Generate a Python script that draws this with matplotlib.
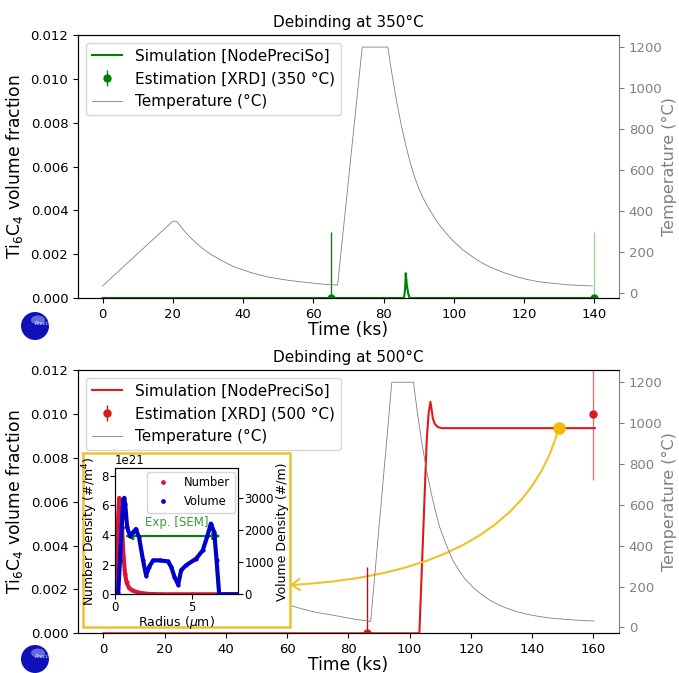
import matplotlib.pyplot as plt
from matplotlib.patches import Rectangle, Ellipse

# ---- Debinding at 350 C ----
temp350_t = [0, 20, 21, 22, 23, 24, 25.5, 27, 29, 31, 33, 35, 37.3, 40, 42.1, 45, 47,
             50, 53, 56.5, 60, 63, 66.9,
             73.9, 81.2, 81.8, 82.5, 83.2, 84, 85, 86.3, 87.5, 88.7, 90, 91.1, 92.5,
             94, 95.8, 98, 100, 102.5, 105.3, 108, 111, 114.8, 118, 121, 124.3, 128,
             132, 136, 139.4]
temp350_T = [34, 350, 350, 330, 308, 288, 262, 238, 210, 186, 166, 148, 128, 112, 100,
             86, 78, 69, 61, 54, 47, 42, 38,
             1200, 1200, 1130, 1055, 985, 908, 821, 721, 641, 572, 510, 468, 423,
             380, 333, 287, 250, 211, 176, 146, 121, 95, 78, 65, 54, 47,
             40, 36, 34]
sim350_t = [0, 85.8, 86.1, 86.3, 86.6, 87.0, 87.4, 140]
sim350_v = [0, 0, 0.0004, 0.00113, 0.0006, 0.0002, 0, 0]
est350_t = [65, 140]
est350_v = [0, 0]

# ---- Debinding at 500 C ----
temp500_t = [0, 27, 28, 30, 33, 36, 40, 45, 50, 55, 60.8, 65, 70, 77.1, 82, 87.3,
             94.2, 101.3, 102, 103, 104, 105.5, 107, 108.5, 109.8, 111.5, 113, 114.1,
             116, 118, 120.6, 123, 126, 129, 131.5, 135, 138.5, 142.4, 147, 152, 156,
             160.3]
temp500_T = [34, 500, 500, 430, 360, 300, 240, 185, 150, 128, 108, 90, 72, 54, 40, 29,
             1200, 1200, 1114, 1004, 904, 773, 662, 567, 492, 422, 368, 329,
             283, 239, 198, 167, 135, 111, 95, 77, 64, 53, 44, 38, 34,
             31]
sim500_t = [0, 103.2, 103.8, 104.4, 105.0, 105.6, 106.2, 106.8, 107.2, 107.6, 108.2,
            109.2, 110.5, 160.5]
sim500_v = [0, 0, 0.0022, 0.0044, 0.0066, 0.0088, 0.0100, 0.01055, 0.0102, 0.0098,
            0.00955, 0.0094, 0.00935, 0.00935]
est500_t = [86, 160]
est500_v = [0, 0.0100]
est_err = 0.003
mark_t, mark_v = 148.7, 0.00935
arrow_tip = (60.8, 0.0022)

# ---- inset: size distributions ----
rad_num = [0, 0.05, 0.1, 0.15, 0.2, 0.27, 0.35, 0.45, 0.55, 0.65, 0.75, 0.9, 1.1, 1.4,
           1.8, 2.3, 3.0, 5.0, 8.0]
num_dens = [0, 0.8, 2.0, 3.5, 5.0, 6.5, 6.0, 4.5, 2.6, 1.4, 0.8, 0.45, 0.28, 0.15,
            0.06, 0.02, 0, 0, 0]
rad_vol = [0, 0.15, 0.21, 0.32, 0.43, 0.54, 0.6, 0.66, 0.79, 0.97, 1.18, 1.35, 1.56,
           1.82, 2.02, 2.21, 2.47, 2.9, 3.43, 3.65, 3.86, 4.1, 4.29, 4.61, 5.26, 5.69,
           6.0, 6.22, 6.44, 6.59, 6.76, 8.0]
vol_dens = [0, 0, 50, 1055, 2080, 2950, 3000, 2800, 2080, 1825, 1926, 2030, 1772,
            1055, 580, 850, 1055, 1055, 1024, 850, 542, 300, 748, 902, 1107, 1363,
            1825, 2200, 1926, 1055, 0, 0]
sem_range = (0.64, 6.86)
sem_level = 3.93

W, H = 679, 673
fig = plt.figure(figsize=(W / 100, H / 100), dpi=100)


def px_box(x0, y0, x1, y1):
    return [x0 / W, 1 - y1 / H, (x1 - x0) / W, (y1 - y0) / H]


def main_panel(box, t_T, T, t_s, v_s, t_e, v_e, col, ecols, title, est_label, xlim, tlim):
    ax = fig.add_axes(px_box(*box))
    ax2 = ax.twinx()
    ax.plot(t_s, v_s, color=col, lw=1.5, label='Simulation [NodePreciSo]', zorder=3)
    eb = ax.errorbar(t_e, v_e, yerr=est_err, fmt='o', color=col, ms=5, elinewidth=1,
                     label=est_label, zorder=4)
    eb[2][0].set_color(ecols)
    ax2.plot(t_T, T, color='gray', lw=0.6, label='Temperature (\u00b0C)')
    ax.set_xlim(*xlim)
    ax.set_ylim(0, 0.012)
    ax2.set_ylim(*tlim)
    ax.set_title(title, fontsize=11)
    ax.set_xlabel('Time (ks)', fontsize=12.3, labelpad=0)
    ax.set_ylabel('Ti$_6$C$_4$ volume fraction', fontsize=12.3)
    ax2.set_ylabel('Temperature (\u00b0C)', fontsize=11.5, color='gray', labelpad=0)
    ax.tick_params(labelsize=9.5)
    ax2.tick_params(labelsize=9.5, colors='gray')
    ax.spines['right'].set_visible(False)
    ax2.spines['right'].set_color('gray')
    h1, l1 = ax.get_legend_handles_labels()
    h2, l2 = ax2.get_legend_handles_labels()
    ax2.legend(h1 + h2, l1 + l2, loc='upper left', fontsize=11)
    return ax, ax2


main_panel((78, 35, 619, 298), temp350_t, temp350_T, sim350_t, sim350_v, est350_t,
           est350_v, 'green', ['#1a7a1a', (0.2, 0.6, 0.2, 0.45)],
           'Debinding at 350\u00b0C', 'Estimation [XRD] (350 \u00b0C)',
           (-7, 147), (-25, 1259))

axb, axb2 = main_panel((78, 370, 619, 633.3), temp500_t, temp500_T, sim500_t, sim500_v,
                       est500_t, est500_v, '#dc1a1a', ['#b01818', (0.75, 0.2, 0.2, 0.65)],
                       'Debinding at 500\u00b0C', 'Estimation [XRD] (500 \u00b0C)',
                       (-8.3, 168.4), (-29, 1260))

axb.plot([mark_t], [mark_v], 'o', color='#f5b800', ms=8, zorder=5)
axb.annotate('', xy=arrow_tip, xytext=(mark_t, mark_v),
             arrowprops=dict(arrowstyle='->,head_length=0.6,head_width=0.4',
                             color='#efc12a', lw=1.5, shrinkA=0, shrinkB=0,
                             connectionstyle='angle3,angleA=75,angleB=3'))

# yellow frame behind the inset
frame = Rectangle((83.3 / W, 1 - 627.3 / H), 206.7 / W, 174 / H,
                  transform=fig.transFigure, facecolor='white', edgecolor='#ecc232',
                  lw=1.8, zorder=2)
fig.add_artist(frame)

axi = fig.add_axes(px_box(115, 468.3, 238.3, 594.3))
axi.set_zorder(3)
axi2 = axi.twinx()
axi2.set_zorder(4)
nd = [v * 1e21 for v in num_dens]
axi.plot(rad_num, nd, color='crimson', lw=3)
axi.plot(rad_num, nd, '.', color='crimson', ms=4, label='Number')
axi2.plot(rad_vol, vol_dens, color='mediumblue', lw=3)
axi2.plot(rad_vol, vol_dens, '.', color='mediumblue', ms=4, label='Volume')
axi.set_xlim(0, 8)
axi.set_ylim(0, 8.5e21)
axi2.set_ylim(0, 3920)
axi.set_xticks([0, 5])
axi.set_yticks([0, 2e21, 4e21, 6e21, 8e21])
axi2.set_yticks([0, 1000, 2000, 3000])
axi.tick_params(labelsize=8.5, pad=1)
axi2.tick_params(labelsize=8.5, pad=1)
axi.yaxis.get_offset_text().set_fontsize(8.5)
axi.set_xlabel('Radius ($\\mu$m)', fontsize=9, labelpad=0)
axi.set_ylabel('Number Density (#/m$^4$)', fontsize=9, labelpad=1)
axi2.set_ylabel('Volume Density (#/m)', fontsize=9, labelpad=1)
axi.annotate('', xy=(sem_range[0], sem_level * 1e21), xytext=(sem_range[1], sem_level * 1e21),
             arrowprops=dict(arrowstyle='<|-|>', color='green', lw=1.5,
                             mutation_scale=11, shrinkA=0, shrinkB=0), zorder=5)
axi.text(4.0, 4.87e21, 'Exp. [SEM]', color='#3a9a3a', fontsize=8.5, ha='center', va='center')
hi1, li1 = axi.get_legend_handles_labels()
hi2, li2 = axi2.get_legend_handles_labels()
axi2.legend(hi1 + hi2, li1 + li2, loc='upper right', fontsize=8.3, markerscale=1.2,
            borderaxespad=0.3, handletextpad=0.8)

# PreciSo logos
for cy in (326, 659):
    fig.add_artist(Ellipse((35 / W, 1 - cy / H), 28 / W, 28 / H, transform=fig.transFigure,
                           facecolor='#1010b8', edgecolor='none', zorder=5))
    fig.add_artist(Ellipse((38 / W, 1 - (cy - 6) / H), 14 / W, 9 / H, transform=fig.transFigure,
                           facecolor='#8c8cf0', edgecolor='none', alpha=0.7, zorder=5))
    fig.text(45 / W, 1 - (cy - 3) / H, 'PreciSo', fontsize=4, style='italic',
             color='#e8e8ff', ha='center', va='center', zorder=6)

fig.savefig('out.png', dpi=100)
